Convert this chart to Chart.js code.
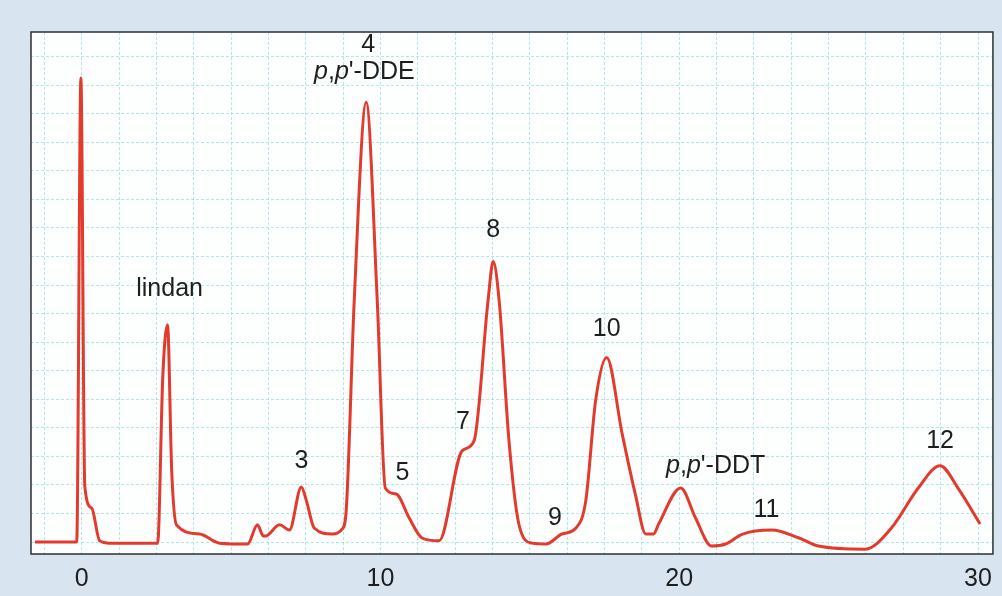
<!DOCTYPE html>
<html>
<head>
<meta charset="utf-8">
<script src="https://cdn.jsdelivr.net/npm/chart.js@4"></script>
<style>
  html, body { margin: 0; padding: 0; background: #d8e5f1; }
  #wrap { width: 1002px; height: 596px; }
</style>
</head>
<body>
<div id="wrap"><canvas id="myChart" width="1002" height="596"></canvas></div>
<script>
// retention time (min) and detector signal (grid units)
const times = [-1.57, -0.17, -0.03, 0.10, 0.33, 0.60, 0.94, 2.54, 2.71, 2.87, 3.01, 3.17, 3.94, 4.61, 5.55,
  5.88, 6.08, 6.15, 6.62, 6.95, 7.35, 7.52, 7.78, 8.39, 8.72, 8.85, 9.12, 9.52, 9.89, 10.16, 10.52, 10.96,
  11.39, 11.96, 12.73, 13.13, 13.60, 13.77, 13.97, 14.30, 14.63, 15.07, 15.54, 16.07, 16.54, 16.87, 17.20,
  17.57, 18.09, 18.53, 18.88, 19.14, 19.31, 20.05, 20.54, 21.08, 21.55, 22.10, 23.09, 23.99, 24.66, 26.23,
  27.10, 28.00, 28.73, 29.33, 30.07];
const signal = [0, 0, 16.25, 1.96, 1.19, 0.04, -0.04, -0.04, 5.75, 7.61, 2.49, 0.60, 0.28, -0.04, -0.07,
  0.60, 0.21, 0.21, 0.60, 0.42, 1.93, 1.44, 0.49, 0.28, 0.46, 1.09, 8.46, 15.40, 8.46, 1.89, 1.68, 0.84,
  0.14, 0.04, 3.19, 3.54, 8.46, 9.82, 8.46, 3.54, 0.63, -0.04, -0.07, 0.28, 0.49, 1.44, 4.95,
  6.46, 3.78, 1.67, 0.28, 0.28, 0.63, 1.89, 0.85, -0.14, -0.07, 0.27, 0.42, 0.15, -0.14, -0.25,
  0.49, 1.89, 2.67, 1.89, 0.63];

const xTickLabels = [0, 10, 20, 30];

// peak labels: text and where they sit (time, signal)
const peakNames = ["4", "p,p'-DDE", "lindan", "3", "5", "7", "8", "9", "10", "p,p'-DDT", "11", "12"];
const peakAt = [[9.59, 17.40], [9.46, 16.45], [2.94, 8.84], [7.35, 2.84], [10.73, 2.42], [12.76, 4.21],
  [13.77, 10.91], [15.84, 0.84], [17.57, 7.44], [21.22, 2.67], [22.92, 1.12], [28.73, 3.54]];

const points = times.map((t, i) => ({ x: t, y: signal[i] }));

const FONT = "'Liberation Sans', Arial, Helvetica, sans-serif";

// paper colours + frame
const paper = {
  id: 'paper',
  beforeDraw(chart) {
    const c = chart.ctx, a = chart.chartArea;
    c.save();
    c.fillStyle = '#d8e5f1';
    c.fillRect(0, 0, chart.width, chart.height);
    c.fillStyle = '#fdfefe';
    c.fillRect(a.left, a.top, a.right - a.left, a.bottom - a.top);
    c.restore();
  },
  afterDatasetsDraw(chart) {
    const c = chart.ctx, a = chart.chartArea;
    c.save();
    c.strokeStyle = '#2b2f33';
    c.lineWidth = 1.5;
    c.strokeRect(a.left, a.top, a.right - a.left, a.bottom - a.top);
    c.restore();
  }
};

// write "p,p'-DDE" style names with italic p's
function drawName(c, text, cx, cy) {
  const parts = [];
  for (const ch of text) {
    const it = ch === 'p';
    const last = parts[parts.length - 1];
    if (last && last.it === it) last.s += ch; else parts.push({ s: ch, it: it });
  }
  let w = 0;
  parts.forEach(p => {
    c.font = (p.it ? 'italic ' : '') + '25px ' + FONT;
    p.w = c.measureText(p.s).width;
    w += p.w;
  });
  let x = cx - w / 2;
  parts.forEach(p => {
    c.font = (p.it ? 'italic ' : '') + '25px ' + FONT;
    c.fillText(p.s, x, cy);
    x += p.w;
  });
}

const peakLabels = {
  id: 'peakLabels',
  afterDatasetsDraw(chart) {
    const c = chart.ctx;
    const xs = chart.scales.x, ys = chart.scales.y;
    c.save();
    c.fillStyle = '#1e1e1e';
    c.textBaseline = 'middle';
    c.textAlign = 'left';
    peakNames.forEach((name, i) => {
      drawName(c, name, xs.getPixelForValue(peakAt[i][0]), ys.getPixelForValue(peakAt[i][1]));
    });
    c.restore();
  }
};

const ctx = document.getElementById('myChart');

new Chart(ctx, {
  type: 'line',
  data: {
    datasets: [{
      data: points,
      borderColor: '#e23b2e',
      borderWidth: 3,
      pointRadius: 0,
      fill: false,
      cubicInterpolationMode: 'monotone'
    }]
  },
  options: {
    responsive: false,
    animation: false,
    layout: { padding: { left: 31, right: 6, top: 32, bottom: -8 } },
    plugins: {
      legend: { display: false },
      tooltip: { enabled: false }
    },
    scales: {
      x: {
        type: 'linear',
        min: -1.7,
        max: 30.5,
        grid: {
          color: 'rgba(110,205,220,0.5)',
          lineWidth: 1,
          drawTicks: false
        },
        border: { display: false, dash: [3, 2] },
        ticks: {
          stepSize: 1.25,
          includeBounds: false,
          autoSkip: false,
          maxRotation: 0,
          padding: 10,
          color: '#1e1e1e',
          font: { size: 25, family: FONT },
          callback: (v) => xTickLabels.includes(v) ? String(v) : ''
        }
      },
      y: {
        min: -0.42,
        max: 17.86,
        grid: {
          color: 'rgba(110,205,220,0.5)',
          lineWidth: 1,
          drawTicks: false
        },
        border: { display: false, dash: [3, 2] },
        ticks: { stepSize: 1, includeBounds: false, display: false }
      }
    }
  },
  plugins: [paper, peakLabels]
});
</script>
</body>
</html>
